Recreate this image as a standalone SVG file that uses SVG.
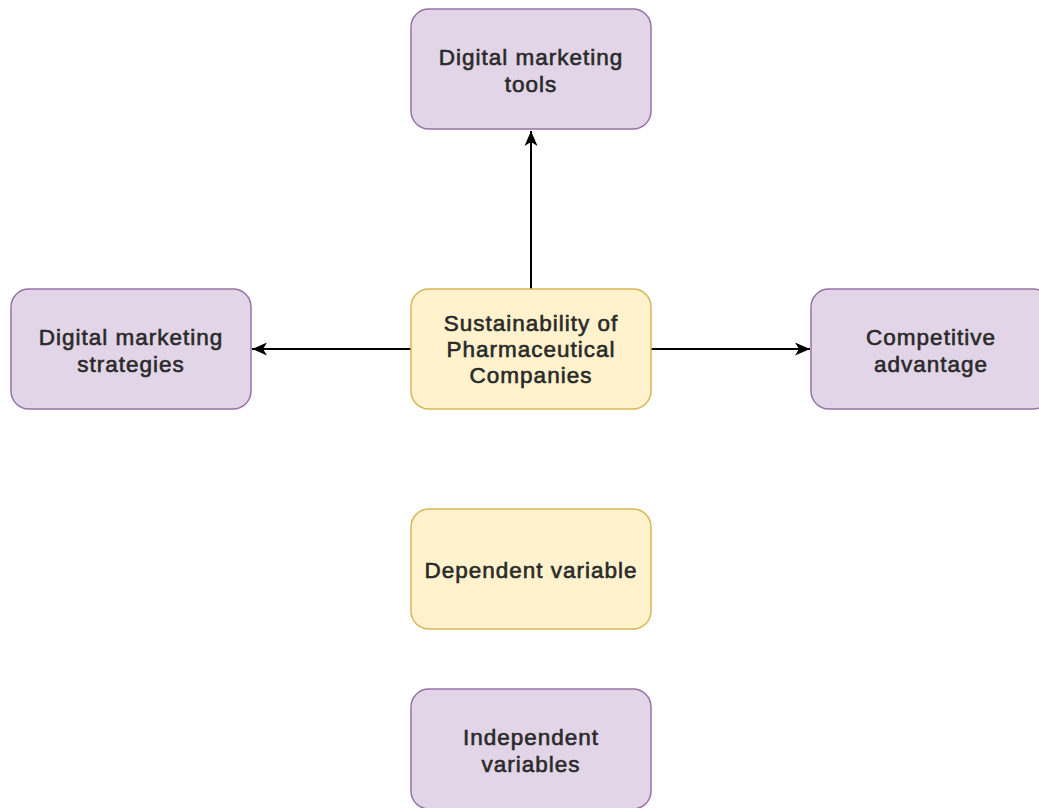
<svg xmlns="http://www.w3.org/2000/svg" width="1039" height="808" viewBox="0 0 1039 808">
<style>
.p{fill:#e1d5e7;stroke:#9673a6;stroke-width:1.5}
.y{fill:#fff2cc;stroke:#d6b656;stroke-width:1.5}
text{font-family:"Liberation Sans",Arial,sans-serif;font-size:22.5px;letter-spacing:1px;fill:#2a2a2a;stroke:#2a2a2a;stroke-width:0.6;text-anchor:middle}
.c{stroke:#000;stroke-width:2;fill:none}
</style>
<defs>
<marker id="ah" markerUnits="userSpaceOnUse" markerWidth="20" markerHeight="20" viewBox="0 0 20 20" refX="17" refY="10" orient="auto">
<path d="M17,10 L2,3.5 L6,10 L2,16.5 Z" fill="#000"/>
</marker>
</defs>
<rect width="1039" height="808" fill="#fff"/>
<g id="connectors">
<line class="c" x1="531" y1="289" x2="531" y2="131" marker-end="url(#ah)"/>
<line class="c" x1="411" y1="349" x2="252" y2="349" marker-end="url(#ah)"/>
<line class="c" x1="651" y1="349" x2="810" y2="349" marker-end="url(#ah)"/>
</g>
<g id="tools">
<rect class="p" x="411" y="9" width="240" height="120" rx="18"/>
<text x="531" y="65">Digital marketing</text>
<text x="531" y="92">tools</text>
</g>
<g id="strategies">
<rect class="p" x="11" y="289" width="240" height="120" rx="18"/>
<text x="131" y="345">Digital marketing</text>
<text x="131" y="372">strategies</text>
</g>
<g id="sustainability">
<rect class="y" x="411" y="289" width="240" height="120" rx="18"/>
<text x="531" y="331">Sustainability of</text>
<text x="531" y="357">Pharmaceutical</text>
<text x="531" y="383">Companies</text>
</g>
<g id="competitive">
<rect class="p" x="811" y="289" width="240" height="120" rx="18"/>
<text x="931" y="345">Competitive</text>
<text x="931" y="372">advantage</text>
</g>
<g id="dependent">
<rect class="y" x="411" y="509" width="240" height="120" rx="18"/>
<text x="531" y="578">Dependent variable</text>
</g>
<g id="independent">
<rect class="p" x="411" y="689" width="240" height="120" rx="18"/>
<text x="531" y="745">Independent</text>
<text x="531" y="772">variables</text>
</g>
</svg>
